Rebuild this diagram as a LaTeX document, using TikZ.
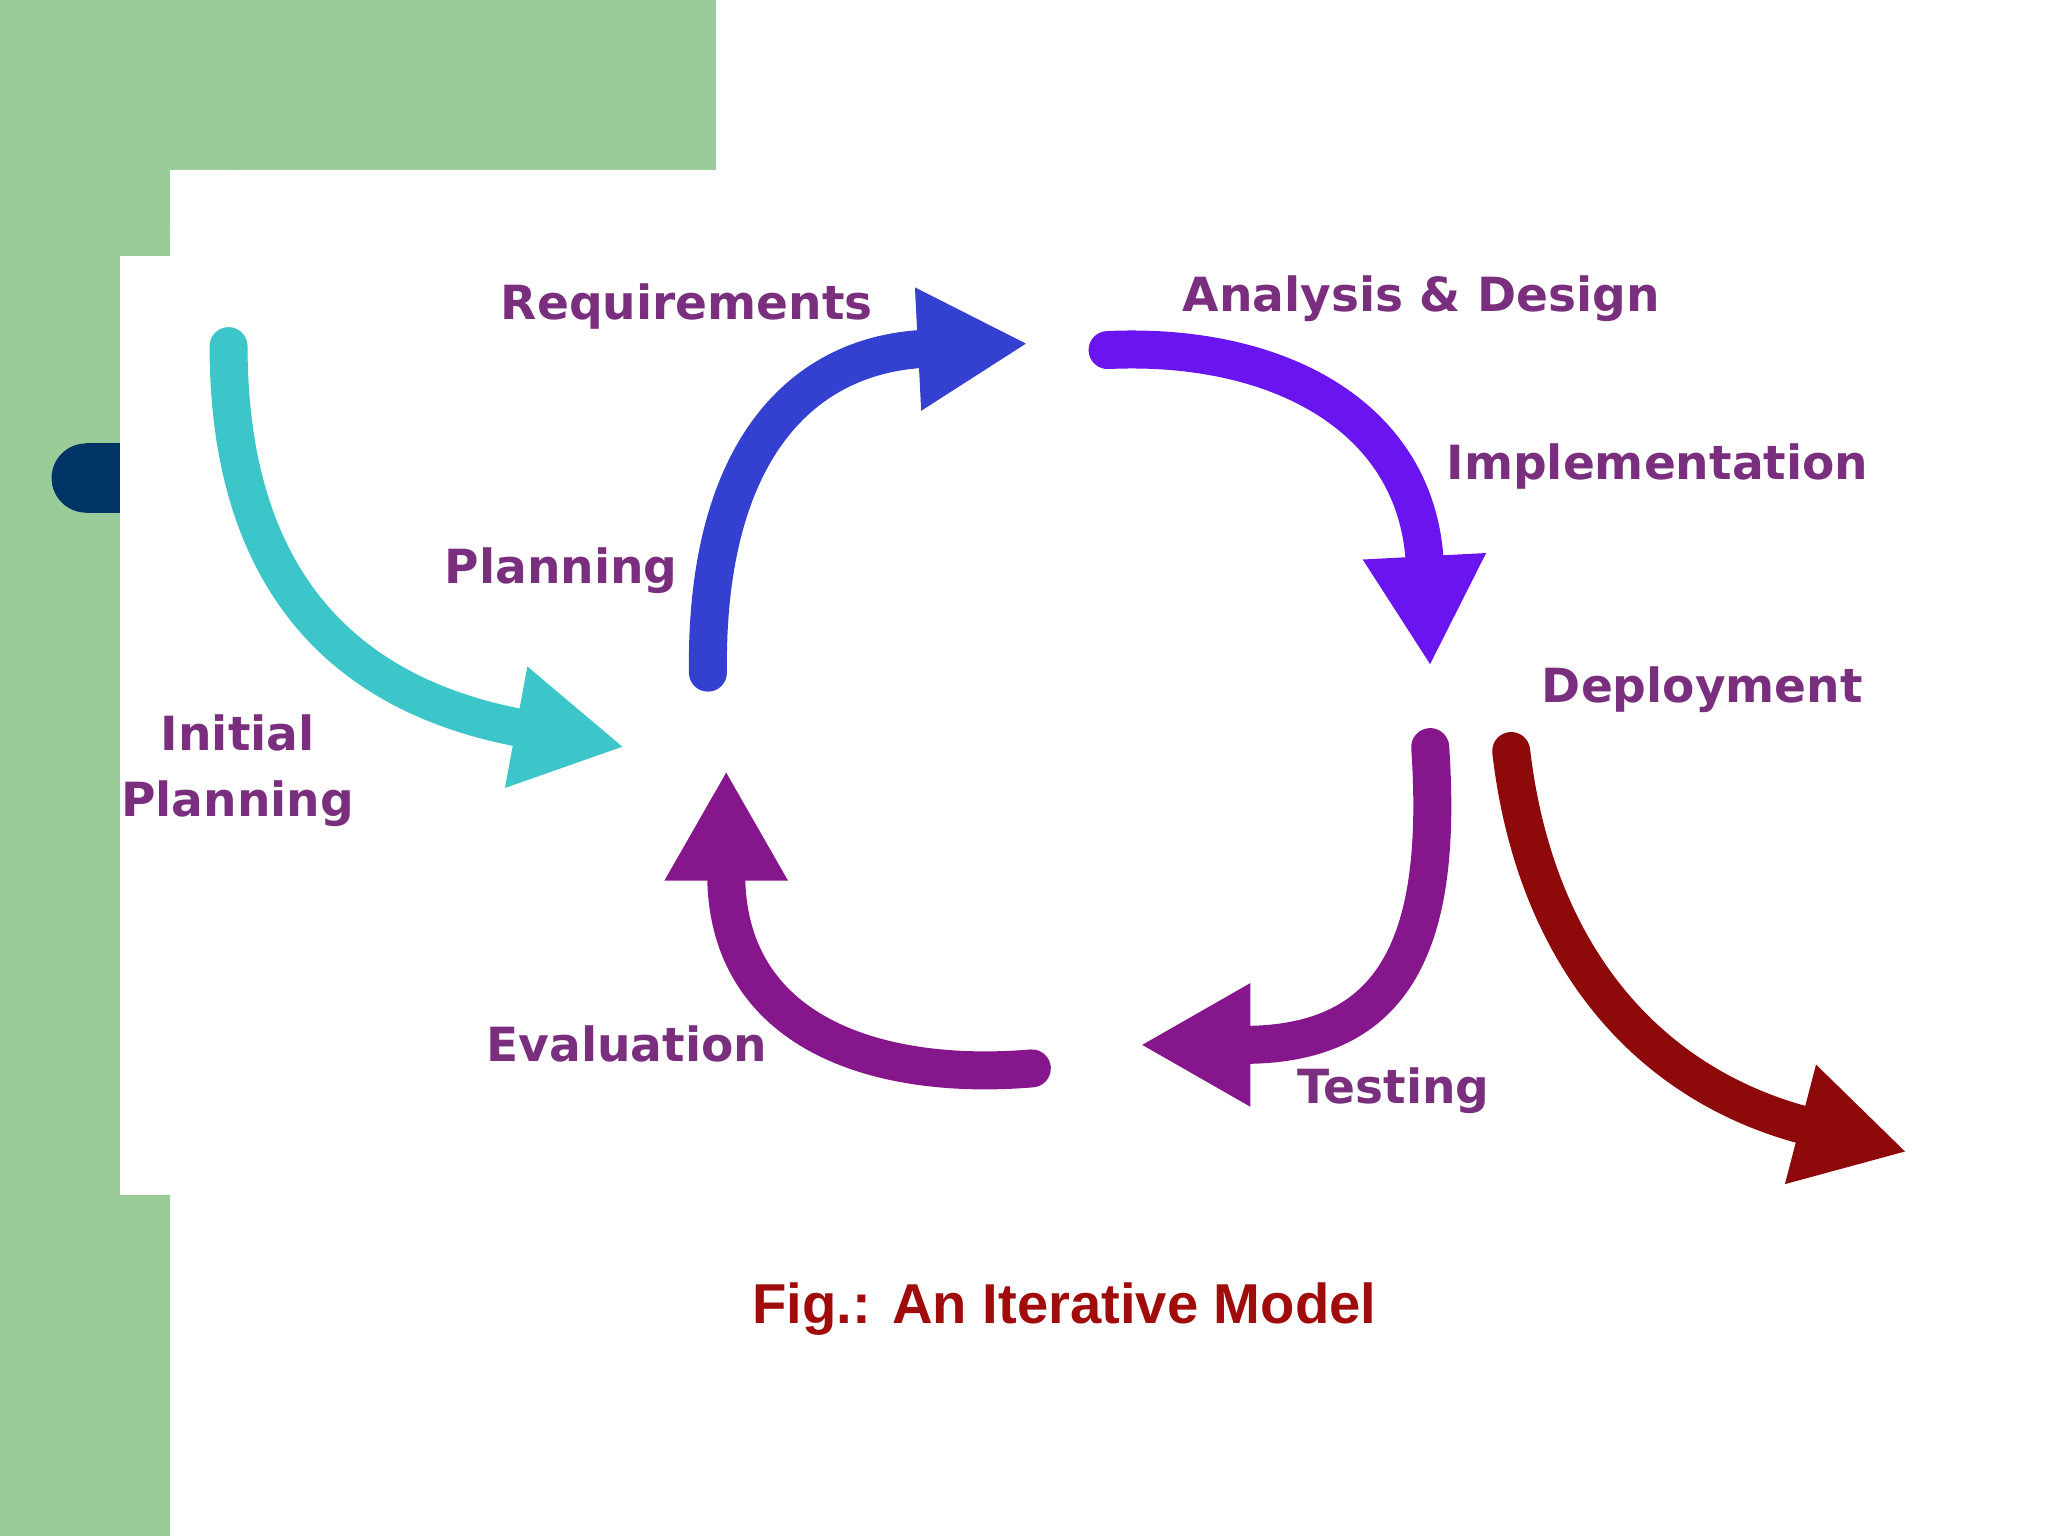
\documentclass[tikz,border=0pt]{standalone}
\usepackage{fontspec}
\setmainfont{DejaVu Sans}
\newfontfamily\capfont{Liberation Sans}
\usetikzlibrary{arrows.meta}
\definecolor{bggreen}{HTML}{99CC99}
\definecolor{pill}{HTML}{003366}
\definecolor{lab}{HTML}{7A2E7E}
\definecolor{ccyan}{HTML}{3CC6CA}
\definecolor{cblue}{HTML}{3340D0}
\definecolor{cviolet}{HTML}{6A14F0}
\definecolor{cpurple}{HTML}{86168C}
\definecolor{cred}{HTML}{8E0A0A}
\definecolor{capred}{HTML}{A00C0C}
\begin{document}
\begin{tikzpicture}[x=0.01306cm,y=-0.01306cm,
  flow/.style={line width=0.38cm,line cap=round,-{Triangle[length=1.1cm 0,width=1.15cm 0]}},
  lbl/.style={font=\bfseries\fontsize{13.4}{16}\selectfont,text=lab,inner sep=0pt}]
\useasboundingbox (0,0) rectangle (1568,1176);
\fill[white] (0,0) rectangle (1568,1176);
\fill[bggreen] (0,0) rectangle (548,130);
\fill[bggreen] (0,0) rectangle (130,1176);
\fill[white] (175,130) rectangle (1568,1176);
\fill[white] (130,175) rectangle (1568,1176);
\fill[white] (175,175) circle[radius=45];
\fill[pill] (66,366) circle[radius=26.5];
\fill[pill] (66,339.5) rectangle (100,392.5);
\fill[white] (92,196) rectangle (131,915);
% coordinates
\coordinate (c0) at (175,265); \coordinate (c1) at (478,572);
\coordinate (b0) at (542,515); \coordinate (b1) at (787,263);
\coordinate (v0) at (848,268); \coordinate (v1) at (1095,510);
\coordinate (t0) at (1095,572); \coordinate (t1) at (873,800);
\coordinate (e0) at (790,818); \coordinate (e1) at (556,590);
\coordinate (r0) at (1157,575); \coordinate (r1) at (1460,882);
\draw[flow,ccyan] (c0) .. controls (175,430) and (250,530) .. (c1);
\draw[flow,cblue] (b0) .. controls (540,350) and (610,272) .. (b1);
\draw[flow,cviolet] (v0) .. controls (980,262) and (1085,320) .. (v1);
\draw[flow,cpurple] (t0) .. controls (1105,720) and (1070,800) .. (t1);
\draw[flow,cpurple] (e0) .. controls (670,828) and (556,790) .. (e1);
\draw[flow,cred] (r0) .. controls (1175,730) and (1260,830) .. (r1);
% labels
\node[lbl,anchor=west] (req) at (383,235) {Requirements};
\node[lbl,anchor=west] (ad) at (905,229) {Analysis \& Design};
\node[lbl,anchor=west] (imp) at (1107,357) {Implementation};
\node[lbl,anchor=west] (pl) at (340,437) {Planning};
\node[lbl,anchor=west] (dep) at (1180,528) {Deployment};
\node[lbl,align=center,font=\bfseries\fontsize{13.4}{19}\selectfont] (ip) at (182,590) {Initial\\Planning};
\node[lbl,anchor=west] (ev) at (372,799) {Evaluation};
\node[lbl,anchor=west] (te) at (993,835) {Testing};
\node[font=\capfont\bfseries\fontsize{16}{19}\selectfont,text=capred] (cap) at (815,1002) {Fig.: An Iterative Model};
\end{tikzpicture}
\end{document}
